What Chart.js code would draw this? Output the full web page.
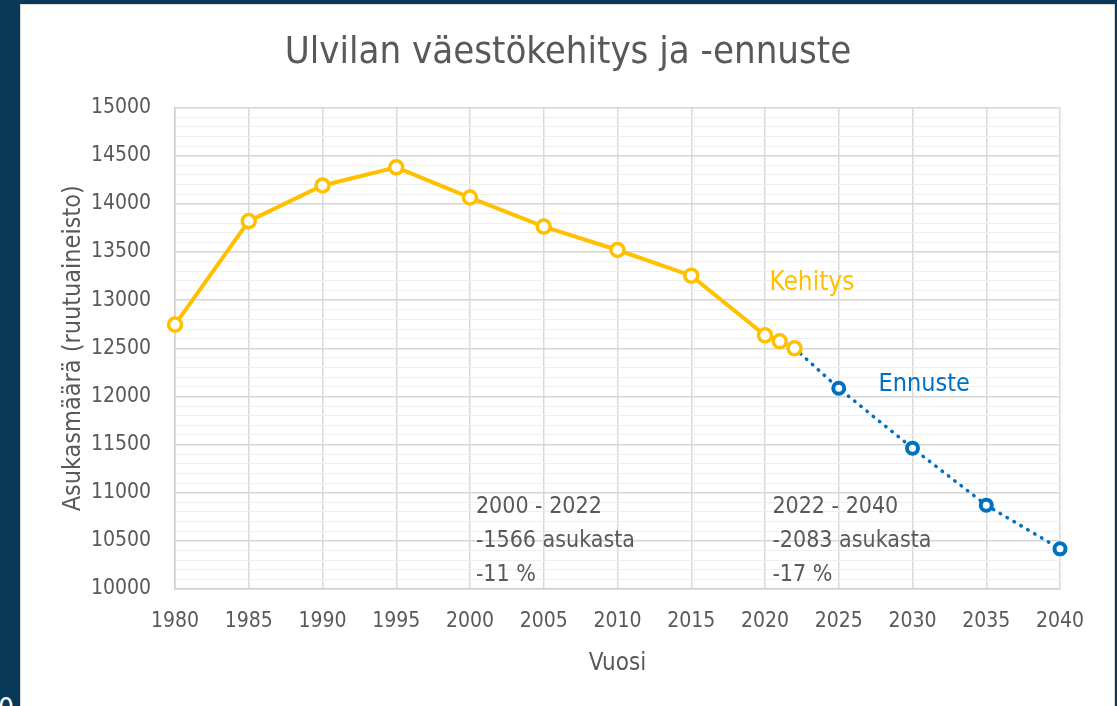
<!DOCTYPE html>
<html>
<head>
<meta charset="utf-8">
<script src="https://cdn.jsdelivr.net/npm/chart.js@4/dist/chart.umd.min.js"></script>
<style>
  html, body { margin: 0; padding: 0; }
  body { width: 1117px; height: 706px; background: #083a58; position: relative; overflow: hidden; }
  #panel { position: absolute; left: 20px; top: 4px; width: 1093px; height: 720px; background: #fff; border: 1px solid #d9d9d9; }
  #wrap { position: absolute; left: 0; top: 0; width: 1117px; height: 706px; }
  #stray { position: absolute; left: -2px; top: 692px; color: #fff; font: 28px "DejaVu Sans Condensed", sans-serif; }
</style>
</head>
<body>
<div id="panel"></div>
<div id="stray">0</div>
<div id="wrap"><canvas id="chart"></canvas></div>
<script>
// --- data ---
const kehitysYears = [1980, 1985, 1990, 1995, 2000, 2005, 2010, 2015, 2020, 2021, 2022];
const kehitysValues = [12746, 13821, 14191, 14380, 14066, 13764, 13521, 13254, 12635, 12573, 12500];
const ennusteYears = [2022, 2025, 2030, 2035, 2040];
const ennusteValues = [12500, 12085, 11463, 10871, 10417];

// text notes, anchored in data units (year, value)
const notes = [
    { year: 2020.3, value: 13175, color: '#ffc000', size: 26, lines: ['Kehitys'] },
    { year: 2027.7, value: 12125, color: '#0070c0', size: 25, lines: ['Ennuste'] },
    { year: 2000.4, value: 10850, color: '#595959', size: 23, lines: ['2000 - 2022', '-1566 asukasta', '-11 %'] },
    { year: 2020.5, value: 10850, color: '#595959', size: 23, lines: ['2022 - 2040', '-2083 asukasta', '-17 %'] }
];

const FONT = '"DejaVu Sans Condensed", "DejaVu Sans", sans-serif';
const GREY = '#595959';

const notesPlugin = {
    id: 'notes',
    afterDatasetsDraw(chart) {
        const c = chart.ctx;
        const x = chart.scales.x, y = chart.scales.y;
        c.save();
        c.textBaseline = 'middle';
        c.textAlign = 'left';
        notes.forEach(n => {
            c.font = n.size + 'px ' + FONT;
            c.fillStyle = n.color;
            n.lines.forEach((t, i) => {
                c.fillText(t, x.getPixelForValue(n.year), y.getPixelForValue(n.value) + i * 34);
            });
        });
        c.restore();
    }
};

const toXY = (xs, ys) => xs.map((v, i) => ({ x: v, y: ys[i] }));

new Chart(document.getElementById('chart'), {
    type: 'line',
    data: {
        datasets: [
            {
                label: 'Kehitys',
                data: toXY(kehitysYears, kehitysValues),
                borderColor: '#ffc000',
                borderWidth: 4,
                pointRadius: 6.5,
                pointBorderWidth: 3.5,
                pointBackgroundColor: '#fff',
                pointBorderColor: '#ffc000',
                tension: 0,
                clip: false
            },
            {
                label: 'Ennuste',
                data: toXY(ennusteYears, ennusteValues),
                borderColor: '#0070c0',
                borderWidth: 3.5,
                borderDash: [0.5, 7.5],
                borderCapStyle: 'round',
                pointRadius: [0, 5.5, 5.5, 5.5, 5.5],
                pointBorderWidth: 4,
                pointBackgroundColor: '#fff',
                pointBorderColor: '#0070c0',
                tension: 0,
                clip: false
            }
        ]
    },
    options: {
        responsive: true,
        maintainAspectRatio: false,
        animation: false,
        layout: { padding: { left: 76, right: 57, top: 0, bottom: 28 } },
        plugins: {
            legend: { display: false },
            tooltip: { enabled: false },
            title: {
                display: true,
                text: 'Ulvilan väestökehitys ja -ennuste',
                color: GREY,
                font: { family: FONT, size: 38, weight: 'normal', lineHeight: 1.2 },
                padding: { top: 30, bottom: 32 }
            }
        },
        scales: {
            x: {
                type: 'linear',
                min: 1980,
                max: 2040,
                ticks: { stepSize: 5, color: GREY, padding: 20, font: { family: FONT, size: 21 }, callback: v => String(v) },
                grid: { color: '#d9d9d9', lineWidth: 1.5, drawTicks: false },
                border: { color: '#d0d0d0', width: 1.5 },
                title: { display: true, text: 'Vuosi', color: GREY, font: { family: FONT, size: 24 }, padding: { top: 6, bottom: 0 } },
                afterFit: s => { s.height = 89; }
            },
            y: {
                min: 10000,
                max: 15000,
                ticks: {
                    stepSize: 100,
                    autoSkip: false,
                    color: GREY,
                    padding: 24,
                    font: { family: FONT, size: 21 },
                    callback: v => (v % 500 === 0 ? String(v) : '')
                },
                grid: {
                    drawTicks: false,
                    color: c => (c.tick && c.tick.value % 500 === 0 ? '#d6d6d6' : '#efefef'),
                    lineWidth: c => (c.tick && c.tick.value % 500 === 0 ? 1.5 : 1)
                },
                border: { color: '#d0d0d0', width: 1.5 },
                title: { display: true, text: 'Asukasmäärä (ruutuaineisto)', color: GREY, font: { family: FONT, size: 25 }, padding: { top: -18, bottom: 0 } },
                afterFit: s => { s.width = 99; }
            }
        }
    },
    plugins: [notesPlugin]
});
</script>
</body>
</html>
